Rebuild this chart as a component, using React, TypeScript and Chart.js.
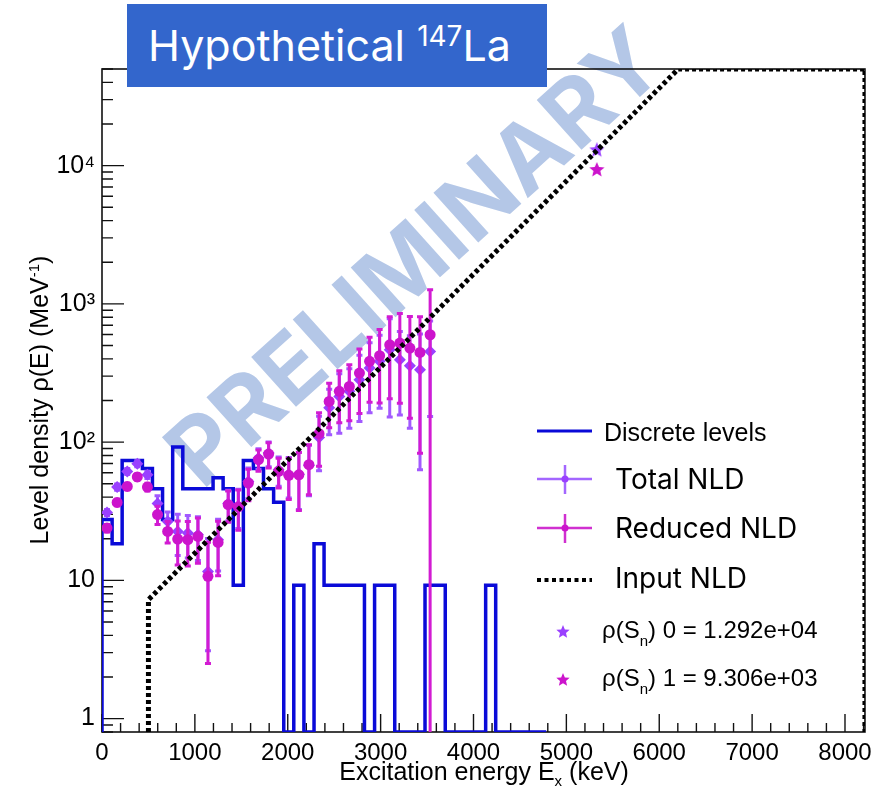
import React, { useEffect, useRef } from "react";
import { Chart, registerables } from "chart.js";

Chart.register(...registerables);

// ---------- axis ranges and tick labels ----------
const X_MIN = 0;
const X_MAX = 8215;
const Y_MIN = 0.8;
const Y_MAX = 5.0e4;

const xTickValues = [0, 1000, 2000, 3000, 4000, 5000, 6000, 7000, 8000];
const xTickLabels = ["0", "1000", "2000", "3000", "4000", "5000", "6000", "7000", "8000"];
const yTickValues = [1, 10, 100, 1000, 10000];
const yTickLabels = ["1", "10", "10\u00B2", "10\u00B3", "10\u2074"];

// ---------- discrete levels histogram (bin edges in keV, density in MeV^-1) ----------
const levelEdges = [
  0, 109, 217, 326, 435, 543, 652, 761, 870, 978, 1087, 1196, 1304, 1413, 1522,
  1630, 1739, 1848, 1957, 2065, 2174, 2283, 2391, 2500, 2609, 2718, 2826, 2935,
  3044, 3152, 3261, 3370, 3478, 3587, 3696, 3805, 3913, 4022, 4131, 4239, 4348,
  4457, 4565, 4674, 4783,
];
const levelDensity = [
  27.6, 18.4, 73.6, 73.6, 64.4, 46.0, 27.6, 92.0, 46.0, 46.0, 46.0, 55.2, 46.0,
  9.2, 73.6, 64.4, 46.0, 36.8, 0, 9.2, 0, 18.4, 9.2, 9.2, 9.2, 9.2, 0, 9.2, 9.2,
  0, 0, 0, 9.2, 9.2, 0, 0, 0, 0, 9.2, 0, 0, 0, 0, 0,
];

// ---------- extracted NLD (keV, MeV^-1) ----------
const nldEnergy = [
  54, 163, 272, 380, 489, 598, 707, 815, 924, 1033, 1141, 1250, 1359, 1468, 1576,
  1685, 1794, 1902, 2011, 2120, 2228, 2337, 2446, 2555, 2663, 2772, 2881, 2989,
  3098, 3207, 3315, 3424, 3533,
];
const totalNld = [
  31.0, 47.3, 61.4, 69.8, 58.1, 35.9, 26.7, 22.6, 22.0, 21.4, 11.6, 19.7, 35.9,
  34.7, 52.0, 76.7, 83.4, 63.0, 58.5, 58.5, 68.0, 108, 177, 214, 233, 283, 343,
  384, 466, 394, 357, 334, 453,
];
const totalNldErr = [
  1.5, 2.5, 3, 3.5, 3.5, 5, 4.5, 7.5, 7.5, 7.5, 8.5, 8, 9, 11, 13, 13, 17, 15, 19,
  26, 27, 46, 64, 98, 107, 142, 180, 208, 314, 237, 231, 271, 300,
];
const reducedNld = [
  23.9, 36.6, 47.8, 56.0, 47.3, 29.9, 22.6, 19.9, 19.7, 20.8, 10.7, 18.8, 35.3,
  34.0, 50.6, 74.6, 82.0, 61.5, 57.5, 58.0, 68.7, 115, 197, 233, 253, 316, 384,
  422, 506, 521, 479, 445, 598,
];
const reducedNldErr = [
  1.5, 2, 2.5, 3, 3, 4.5, 4, 7, 7, 7.5, 8.2, 8, 9, 11, 13, 13, 17, 15, 19, 26, 27,
  48, 70, 95, 110, 155, 190, 230, 300, 330, 330, 362, 667,
];

// ---------- rho(Sn) ----------
const snEnergy = [5328];
const rhoSnTotal = [12920];
const rhoSnReduced = [9306];

// ---------- input NLD (dotted) ----------
const inputEnergy = [500, 500, 6205, 8215, 8215];
const inputNld = [0, 7.25, 50000, 50000, 0];

// ---------- colours ----------
const BLUE = "#0a0ad8";
const PURPLE = "#9a40ff";
const MAGENTA = "#cc14cc";

const floorY = (v: number) => (v > Y_MIN ? v : Y_MIN);

function makeStar(color: string, size: number) {
  const c = document.createElement("canvas");
  c.width = size;
  c.height = size;
  const g = c.getContext("2d")!;
  const cx = size / 2;
  const cy = size / 2;
  const R = size / 2;
  const r = R * 0.45;
  g.beginPath();
  for (let i = 0; i < 10; i++) {
    const a = -Math.PI / 2 + (i * Math.PI) / 5;
    const rad = i % 2 === 0 ? R : r;
    g.lineTo(cx + rad * Math.cos(a), cy + rad * Math.sin(a));
  }
  g.closePath();
  g.fillStyle = color;
  g.fill();
  return c;
}

const errorBarPlugin = {
  id: "errorBars",
  beforeDatasetDraw(chart: any, args: any) {
    const ds = chart.data.datasets[args.index];
    if (!ds.errors) return;
    const { ctx, chartArea } = chart;
    const xs = chart.scales.x;
    const ys = chart.scales.y;
    ctx.save();
    ctx.beginPath();
    ctx.rect(chartArea.left, chartArea.top, chartArea.right - chartArea.left, chartArea.bottom - chartArea.top);
    ctx.clip();
    ctx.strokeStyle = ds.errorColor;
    ctx.lineWidth = 3;
    ds.data.forEach((p: any, i: number) => {
      const e = ds.errors[i];
      const x = xs.getPixelForValue(p.x);
      const lo = p.y - e;
      const hi = p.y + e;
      const yHi = ys.getPixelForValue(hi);
      const yLo = lo > 0 ? ys.getPixelForValue(lo) : chartArea.bottom + 5;
      ctx.beginPath();
      ctx.moveTo(x, yLo);
      ctx.lineTo(x, yHi);
      ctx.moveTo(x - 3, yHi);
      ctx.lineTo(x + 3, yHi);
      ctx.moveTo(x - 3, yLo);
      ctx.lineTo(x + 3, yLo);
      ctx.stroke();
    });
    ctx.restore();
  },
};

const frameTicksPlugin = {
  id: "frameTicks",
  beforeDatasetsDraw(chart: any) {
    const { ctx, chartArea } = chart;
    const xs = chart.scales.x;
    const ys = chart.scales.y;
    const { left, right, top, bottom } = chartArea;
    ctx.save();
    ctx.strokeStyle = "#111";
    ctx.lineWidth = 1.6;
    ctx.strokeRect(left, top, right - left, bottom - top);
    ctx.lineWidth = 1.4;
    ctx.beginPath();
    for (let v = 0; v <= X_MAX; v += 200) {
      const px = xs.getPixelForValue(v);
      const len = v % 1000 === 0 ? 18 : 9;
      ctx.moveTo(px, bottom);
      ctx.lineTo(px, bottom - len);
    }
    for (let k = -1; k <= 4; k++) {
      for (let m = 1; m <= 9; m++) {
        const v = m * Math.pow(10, k);
        if (v < Y_MIN - 1e-9 || v > Y_MAX) continue;
        const py = ys.getPixelForValue(v);
        const len = m === 1 ? 22 : 11;
        ctx.moveTo(left, py);
        ctx.lineTo(left + len, py);
      }
    }
    ctx.stroke();
    ctx.restore();
  },
};

function App() {
  const canvasRef = useRef<HTMLCanvasElement | null>(null);

  useEffect(() => {
    const canvas = canvasRef.current;
    if (!canvas) return;

    const histPoints: { x: number; y: number }[] = [{ x: levelEdges[0], y: Y_MIN }];
    levelDensity.forEach((v, i) => histPoints.push({ x: levelEdges[i], y: floorY(v) }));
    histPoints.push({ x: levelEdges[levelEdges.length - 1], y: Y_MIN });

    const inputPoints = inputEnergy.map((e, i) => ({ x: e, y: floorY(inputNld[i]) }));
    const totalPoints = nldEnergy.map((e, i) => ({ x: e, y: totalNld[i] }));
    const reducedPoints = nldEnergy.map((e, i) => ({ x: e, y: reducedNld[i] }));

    const chart = new Chart(canvas, {
      type: "line",
      data: {
        datasets: [
          {
            label: "Input NLD",
            data: inputPoints,
            borderColor: "#000",
            borderWidth: 5,
            borderDash: [4, 3],
            pointRadius: 0,
            tension: 0,
            order: 0,
          } as any,
          {
            label: "rho(Sn) 0",
            data: snEnergy.map((e, i) => ({ x: e, y: rhoSnTotal[i] })),
            showLine: false,
            pointStyle: makeStar(PURPLE, 16),
            pointRadius: 8,
            order: 1,
          } as any,
          {
            label: "rho(Sn) 1",
            data: snEnergy.map((e, i) => ({ x: e, y: rhoSnReduced[i] })),
            showLine: false,
            pointStyle: makeStar(MAGENTA, 16),
            pointRadius: 8,
            order: 1,
          } as any,
          {
            label: "Reduced NLD",
            data: reducedPoints,
            showLine: false,
            pointStyle: "circle",
            pointRadius: 5.5,
            backgroundColor: MAGENTA,
            borderColor: MAGENTA,
            borderWidth: 0,
            errors: reducedNldErr,
            errorColor: "#d21bd2",
            order: 2,
          } as any,
          {
            label: "Total NLD",
            data: totalPoints,
            showLine: false,
            pointStyle: "rectRot",
            pointRadius: 6,
            backgroundColor: PURPLE,
            borderColor: PURPLE,
            borderWidth: 0,
            errors: totalNldErr,
            errorColor: "#a259ff",
            order: 3,
          } as any,
          {
            label: "Discrete levels",
            data: histPoints,
            borderColor: BLUE,
            borderWidth: 3.5,
            stepped: true,
            pointRadius: 0,
            order: 4,
          } as any,
        ],
      },
      options: {
        responsive: false,
        animation: false,
        events: [],
        layout: { padding: { top: 69, right: 12, bottom: 0, left: 0 } },
        plugins: {
          legend: { display: false },
          tooltip: { enabled: false },
          title: { display: false },
        },
        scales: {
          x: {
            type: "linear",
            min: X_MIN,
            max: X_MAX,
            grid: { display: false, drawTicks: false },
            border: { display: false },
            afterBuildTicks: (scale: any) => {
              scale.ticks = xTickValues.map((v) => ({ value: v }));
            },
            afterFit: (scale: any) => {
              scale.height = 63;
            },
            ticks: {
              autoSkip: false,
              maxRotation: 0,
              padding: 7,
              color: "#000",
              font: { family: "'Liberation Sans', Arial, sans-serif", size: 24 },
              callback: (v: any) => {
                const i = xTickValues.indexOf(Number(v));
                return i >= 0 ? xTickLabels[i] : "";
              },
            },
          },
          y: {
            type: "logarithmic",
            min: Y_MIN,
            max: Y_MAX,
            grid: { display: false, drawTicks: false },
            border: { display: false },
            afterBuildTicks: (scale: any) => {
              scale.ticks = yTickValues.map((v) => ({ value: v }));
            },
            afterFit: (scale: any) => {
              scale.width = 102;
            },
            ticks: {
              autoSkip: false,
              padding: 7,
              color: "#000",
              font: { family: "'Liberation Sans', Arial, sans-serif", size: 25 },
              callback: (v: any) => {
                const i = yTickValues.indexOf(Number(v));
                return i >= 0 ? yTickLabels[i] : "";
              },
            },
          },
        },
      },
      plugins: [frameTicksPlugin, errorBarPlugin],
    } as any);

    return () => chart.destroy();
  }, []);

  const helv = "'Liberation Sans', Arial, sans-serif";
  const aptos = "Inter, 'Noto Sans', sans-serif";

  const legendText = (text: React.ReactNode, left: number, cy: number, font: string, size: number) => (
    <div
      style={{
        position: "absolute",
        left,
        top: cy,
        transform: "translateY(-50%)",
        fontFamily: font,
        fontSize: size,
        lineHeight: 1,
        color: "#000",
        whiteSpace: "nowrap",
      }}
    >
      {text}
    </div>
  );

  const starPts = (cx: number, cy: number, R: number) => {
    const pts: string[] = [];
    for (let i = 0; i < 10; i++) {
      const a = -Math.PI / 2 + (i * Math.PI) / 5;
      const rad = i % 2 === 0 ? R : R * 0.45;
      pts.push(`${cx + rad * Math.cos(a)},${cy + rad * Math.sin(a)}`);
    }
    return pts.join(" ");
  };

  return (
    <div style={{ position: "absolute", left: 0, top: 0, width: 879, height: 795, overflow: "hidden", background: "#fff" }}>
      {/* watermark */}
      <div
        style={{
          position: "absolute",
          left: 414,
          top: 256,
          transform: "translate(-50%, -50%) rotate(-42deg)",
          fontFamily: aptos,
          fontWeight: 700,
          fontSize: 92,
          color: "#b4c7e7",
          whiteSpace: "nowrap",
          lineHeight: 1,
        }}
      >
        PRELIMINARY
      </div>

      <canvas ref={canvasRef} width={879} height={795} style={{ position: "absolute", left: 0, top: 0, width: 879, height: 795 }} />

      {/* title box */}
      <div style={{ position: "absolute", left: 127, top: 4, width: 420, height: 83, background: "#3366cc" }} />
      <div
        style={{
          position: "absolute",
          left: 148,
          top: 24,
          fontFamily: aptos,
          fontSize: 43,
          fontWeight: 400,
          lineHeight: 1,
          color: "#fff",
          whiteSpace: "nowrap",
        }}
      >
        Hypothetical <span style={{ fontSize: 28, position: "relative", top: -15 }}>147</span>La
      </div>

      {/* axis titles */}
      <div
        style={{
          position: "absolute",
          left: 484,
          top: 773,
          transform: "translate(-50%, -50%)",
          fontFamily: helv,
          fontSize: 25,
          lineHeight: 1,
          whiteSpace: "nowrap",
          color: "#000",
        }}
      >
        Excitation energy E<sub style={{ fontSize: 15, verticalAlign: -6 }}>x</sub> (keV)
      </div>
      <div
        style={{
          position: "absolute",
          left: 39,
          top: 400,
          transform: "translate(-50%, -50%) rotate(-90deg)",
          fontFamily: helv,
          fontSize: 25,
          lineHeight: 1,
          whiteSpace: "nowrap",
          color: "#000",
        }}
      >
        Level density ρ(E) (MeV<sup style={{ fontSize: 15, verticalAlign: 9 }}>-1</sup>)
      </div>

      {/* legend */}
      <svg width={879} height={795} style={{ position: "absolute", left: 0, top: 0 }}>
        <line x1={537} y1={431} x2={592} y2={431} stroke={BLUE} strokeWidth={3} />
        <line x1={537} y1={479} x2={592} y2={479} stroke="#a366ff" strokeWidth={2.5} />
        <line x1={565} y1={465} x2={565} y2={494} stroke="#a366ff" strokeWidth={2.5} />
        <circle cx={565} cy={479} r={3.5} fill={PURPLE} />
        <line x1={537} y1={528} x2={592} y2={528} stroke="#d030d0" strokeWidth={2.5} />
        <line x1={565} y1={514} x2={565} y2={543} stroke="#d030d0" strokeWidth={2.5} />
        <circle cx={565} cy={528} r={3.5} fill={MAGENTA} />
        <line x1={537} y1={580} x2={592} y2={580} stroke="#000" strokeWidth={4} strokeDasharray="4 3.5" />
        <polygon points={starPts(563, 632, 7)} fill={PURPLE} />
        <polygon points={starPts(563, 680, 7)} fill={MAGENTA} />
      </svg>
      {legendText("Discrete levels", 604, 432, helv, 25)}
      {legendText("Total NLD", 615, 479, aptos, 28)}
      {legendText("Reduced NLD", 615, 528, aptos, 28)}
      {legendText("Input NLD", 615, 578, aptos, 28)}
      {legendText(
        <span>
          ρ(S<sub style={{ fontSize: 15, verticalAlign: -8 }}>n</sub>) 0 = 1.292e+04
        </span>,
        602,
        633,
        helv,
        24
      )}
      {legendText(
        <span>
          ρ(S<sub style={{ fontSize: 15, verticalAlign: -8 }}>n</sub>) 1 = 9.306e+03
        </span>,
        602,
        681,
        helv,
        24
      )}
    </div>
  );
}

export default App;
